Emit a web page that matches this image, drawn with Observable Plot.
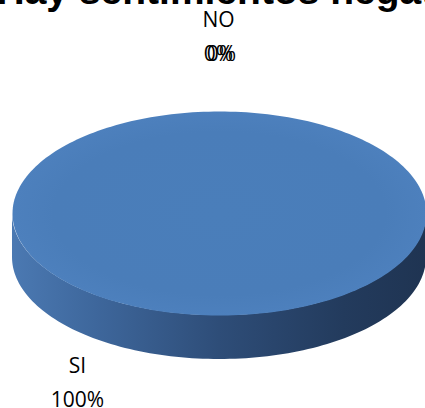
<!DOCTYPE html>
<html>
<head>
<meta charset="utf-8">
<script src="https://cdn.jsdelivr.net/npm/d3@7"></script>
<script src="https://cdn.jsdelivr.net/npm/@observablehq/plot@0.6"></script>
<style>
  html, body { margin: 0; padding: 0; background: #fff; overflow: hidden; }
  svg { display: block; }
</style>
</head>
<body>
<div id="chart"></div>
<script>
// ---- data ----
const title = "Hay sentimientos negativos";
const categories = ["SI", "NO", ""];
const values = [100, 0, 0];
const percentLabels = ["100%", "0%", "0%"];

// ---- layout ----
const W = 425, H = 408;
const cx = 219, cy = 213, rx = 207, ry = 102, depth = 44;
const N = 240;

const pie = d3.pie().sort(null).startAngle(0).endAngle(2 * Math.PI)(values);
const slices = pie.map((p, i) => ({...p, name: categories[i], label: percentLabels[i]}));

const px = a => cx + rx * Math.sin(a);
const py = a => cy - ry * Math.cos(a);

// top faces
const topPts = [];
slices.forEach((s, i) => {
  if (s.endAngle - s.startAngle <= 0) return;
  const n = Math.max(2, Math.ceil(N * (s.endAngle - s.startAngle) / (2 * Math.PI)));
  const full = s.endAngle - s.startAngle >= 2 * Math.PI - 1e-9;
  if (!full) topPts.push({k: i, x: cx, y: cy});
  for (let j = 0; j <= n; j++) {
    const a = s.startAngle + (s.endAngle - s.startAngle) * j / n;
    topPts.push({k: i, x: px(a), y: py(a)});
  }
});

// front side walls (visible angles between pi/2 and 3pi/2)
const sidePts = [];
slices.forEach((s, i) => {
  const a0 = Math.max(s.startAngle, Math.PI / 2), a1 = Math.min(s.endAngle, 3 * Math.PI / 2);
  if (a1 <= a0) return;
  const n = Math.max(2, Math.ceil(N * (a1 - a0) / (2 * Math.PI)));
  for (let j = 0; j <= n; j++) {
    const a = a0 + (a1 - a0) * j / n;
    sidePts.push({k: i, x: px(a), y1: py(a), y2: py(a) + depth});
  }
});

// label anchors (Excel best-fit placement)
const labelPos = {"SI": [77, 366], "NO": [218, 20], "": [221, 20]};
const labelRows = [];
slices.forEach((s, i) => {
  const [lx, ly] = labelPos[s.name];
  if (s.name) labelRows.push({x: lx, y: ly, t: s.name});
  labelRows.push({x: lx, y: ly + 34, t: s.label});
});

const defs = () => {
  const g = d3.create("svg:defs");
  const side = g.append("linearGradient").attr("id", "sideGrad")
    .attr("gradientUnits", "userSpaceOnUse")
    .attr("x1", cx - rx).attr("x2", cx + rx).attr("y1", 0).attr("y2", 0);
  [[0, "#4b79b2"], [0.2, "#3e679c"], [0.5, "#2e4d78"], [0.8, "#233b5d"], [1, "#1f3452"]]
    .forEach(([o, c]) => side.append("stop").attr("offset", o).attr("stop-color", c));
  const top = g.append("radialGradient").attr("id", "topGrad")
    .attr("gradientUnits", "userSpaceOnUse")
    .attr("cx", cx).attr("cy", cy).attr("r", rx)
    .attr("gradientTransform", `translate(${cx},${cy}) scale(1,${ry / rx}) translate(${-cx},${-cy})`);
  [[0, "#4a7eba"], [0.8, "#4a7db9"], [1, "#4d80bd"]]
    .forEach(([o, c]) => top.append("stop").attr("offset", o).attr("stop-color", c));
  return g.node();
};

const chart = Plot.plot({
  width: W, height: H,
  margin: 0,
  x: {domain: [0, W], range: [0, W], axis: null},
  y: {domain: [0, H], range: [0, H], axis: null},
  style: {background: "#fff", overflow: "hidden"},
  marks: [
    defs,
    Plot.areaY(sidePts, {x: "x", y1: "y1", y2: "y2", z: "k", fill: "url(#sideGrad)", curve: "linear"}),
    Plot.line(topPts, {x: "x", y: "y", z: "k", fill: "url(#topGrad)", stroke: "none", curve: "linear"}),
    Plot.text(labelRows, {x: "x", y: "y", text: "t", fill: "#000", fontSize: 21,
      fontFamily: "'Open Sans', 'DejaVu Sans', sans-serif", textAnchor: "middle", lineAnchor: "middle"}),
    Plot.text([title], {x: () => -4, y: () => -9, text: d => d, textAnchor: "start", lineAnchor: "middle",
      fontSize: 39, fontWeight: "bold", fontFamily: "'Liberation Sans', Arial, sans-serif", fill: "#000"})
  ]
});
document.getElementById("chart").appendChild(chart);
</script>
</body>
</html>
